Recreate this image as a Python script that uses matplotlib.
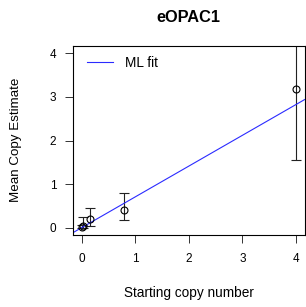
import matplotlib
matplotlib.use("Agg")
import matplotlib.pyplot as plt
import numpy as np

plt.rcParams['font.family'] = ['Liberation Sans', 'DejaVu Sans']

# data
start_copies = [4.0, 0.8, 0.16, 0.032, 0.0064]
mean_est = [3.18, 0.405, 0.19, 0.05, 0.01]
err_low = [1.56, 0.17, 0.05, 0.0, 0.0]
err_high = [4.6, 0.80, 0.46, 0.24, 0.06]
fit_slope = 0.706
fit_intercept = 0.0
xticks = [0, 1, 2, 3, 4]
yticks = [0, 1, 2, 3, 4]

W, H = 306, 307
fig = plt.figure(figsize=(W / 100, H / 100), dpi=100)
L, R, B, T = 73.0, 304.5, 234.7, 46.3
ax = fig.add_axes([L / W, (H - B) / H, (R - L) / W, (B - T) / H])

x = np.array(start_copies)
y = np.array(mean_est)
yerr = np.vstack([y - np.array(err_low), np.array(err_high) - y])
ax.errorbar(x, y, yerr=yerr, fmt='none', ecolor='#222222', elinewidth=0.8,
            capsize=3.8, capthick=0.8, zorder=2)
ax.plot(x, y, 'o', mfc='none', mec='black', ms=5, mew=0.8, zorder=3)

xlim = (-0.16, 4.16)
ylim = (-0.16, 4.16)
xx = np.array(xlim)
ax.plot(xx, fit_intercept + fit_slope * xx, color='#2b2bff', lw=0.8,
        label='ML fit', zorder=2)

ax.set_xlim(*xlim)
ax.set_ylim(*ylim)
ax.set_xticks(xticks)
ax.set_yticks(yticks)
ax.tick_params(axis='both', direction='out', length=6, width=0.7,
               labelsize=8.5, color='#333333')
ax.tick_params(axis='x', pad=7)
ax.tick_params(axis='y', pad=6)
for s in ax.spines.values():
    s.set_linewidth(0.8)

fig.text(((L + R) / 2) / W, (H - 296.7) / H, 'Starting copy number',
         fontsize=9.8, ha='center', va='baseline')
fig.text(16 / W, (H - 140) / H, 'Mean Copy Estimate', fontsize=9.6,
         rotation=90, ha='center', va='center')
fig.text(((L + R) / 2) / W, (H - 22) / H, 'eOPAC1', fontsize=11.8,
         fontweight='bold', ha='center', va='baseline')

ax.legend(loc='center left', frameon=False, fontsize=9.8, handlelength=1.9,
          handletextpad=0.95, borderpad=0, borderaxespad=0,
          bbox_to_anchor=((86.7 - L) / (R - L), (B - 62.7) / (B - T)))

fig.savefig('out.png', dpi=100)
